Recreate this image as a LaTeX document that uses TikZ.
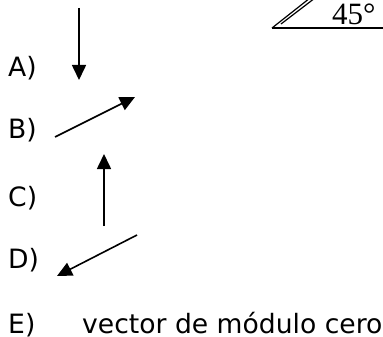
\documentclass[tikz,border=0pt]{standalone}
\usepackage{fontspec}
\setmainfont{DejaVu Sans}
\newfontfamily\serifnum{Liberation Serif}
\usetikzlibrary{arrows.meta}
\begin{document}
\begin{tikzpicture}[x=1pt,y=-1pt,
  lbl/.style={anchor=base west,inner sep=0pt,font=\fontsize{26.6}{30}\selectfont},
  vec/.style={line width=1.6pt,-{Triangle[length=15pt,width=14pt]}},
  edge/.style={line width=1.6pt}]
\useasboundingbox (0,0) rectangle (383,337);
% labels
\node[lbl] (la) at (8,77) {A)};
\node[lbl] (lb) at (8,139) {B)};
\node[lbl] (lc) at (8,206) {C)};
\node[lbl] (ld) at (8,268) {D)};
\node[lbl] (le) at (8,333) {E)};
\node[lbl] (te) at (82,333) {vector de módulo cero};
% vector end points
\coordinate (a1) at (79,8);   \coordinate (a2) at (79,80);
\coordinate (b1) at (55,137); \coordinate (b2) at (135,97);
\coordinate (c1) at (104,226);\coordinate (c2) at (104,154);
\coordinate (d1) at (137,235);\coordinate (d2) at (57,276);
\draw[vec] (a1) -- (a2);
\draw[vec] (b1) -- (b2);
\draw[vec] (c1) -- (c2);
\draw[vec] (d1) -- (d2);
% triangle at top right
\coordinate (apex) at (272,28);
\coordinate (baseend) at (390,28);
\coordinate (h1) at (310,-2);
\coordinate (h2a) at (281,24);
\coordinate (h2b) at (315,-2);
\draw[edge] (apex) -- (baseend);
\draw[line width=1.2pt] (apex) -- (h1);
\draw[line width=1.2pt] (h2a) -- (h2b);
\node[anchor=base west,inner sep=0pt,font=\serifnum\fontsize{31}{34}\selectfont] (ang) at (332,25) {45°};
\end{tikzpicture}
\end{document}
